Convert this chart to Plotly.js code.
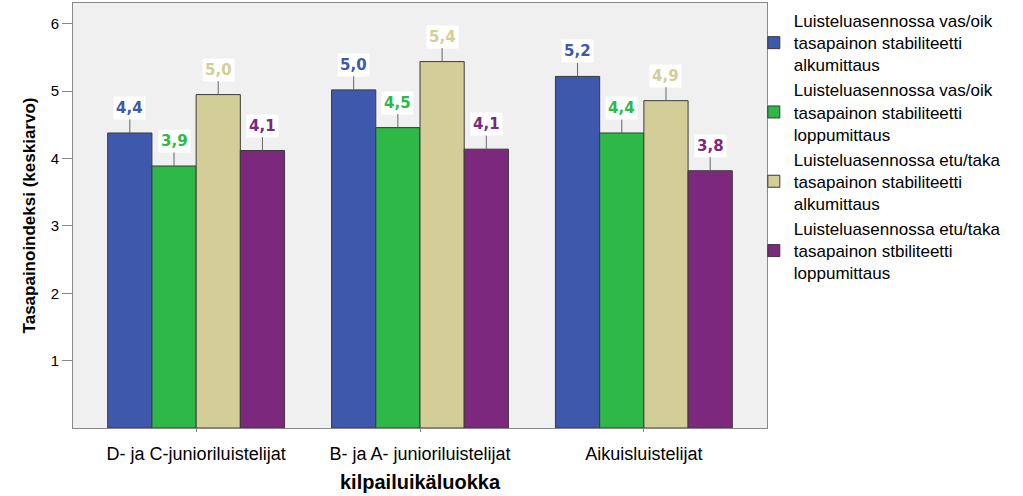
<!DOCTYPE html>
<html>
<head>
<meta charset="utf-8">
<script src="https://cdn.plot.ly/plotly-3.0.1.min.js"></script>
<style>html,body{margin:0;padding:0;background:#fff;}#chart{width:1023px;height:496px;}</style>
</head>
<body>
<div id="chart"></div>
<script>
const categories = ["D- ja C-junioriluistelijat", "B- ja A- junioriluistelijat", "Aikuisluistelijat"];
const seriesNames = [
  "Luisteluasennossa vas/oik<br>tasapainon stabiliteetti<br>alkumittaus",
  "Luisteluasennossa vas/oik<br>tasapainon stabiliteetti<br>loppumittaus",
  "Luisteluasennossa etu/taka<br>tasapainon stabiliteetti<br>alkumittaus",
  "Luisteluasennossa etu/taka<br>tasapainon stbiliteetti<br>loppumittaus"
];
const vasOikAlku  = [4.38, 5.02, 5.22];
const vasOikLoppu = [3.89, 4.46, 4.38];
const etuTakaAlku = [4.95, 5.44, 4.86];
const etuTakaLoppu = [4.12, 4.14, 3.82];
const seriesValues = [vasOikAlku, vasOikLoppu, etuTakaAlku, etuTakaLoppu];
const colors = ["#3E58AC", "#2EB848", "#D3CE97", "#7B287D"];
const yTicks = [1, 2, 3, 4, 5, 6];

const bargap = 0.21;
const nS = seriesValues.length;
const bw = (1 - bargap) / nS;
const xs = categories.map((c, i) => i);

const traces = seriesValues.map((vals, s) => ({
  type: "bar",
  x: xs,
  y: vals,
  name: seriesNames[s],
  marker: {color: colors[s], line: {color: "#3a3a3a", width: 1}},
  hoverinfo: "y"
}));

const annotations = [];
seriesValues.forEach((vals, s) => {
  vals.forEach((v, g) => {
    annotations.push({
      x: g + (s - (nS - 1) / 2) * bw,
      y: v,
      xref: "x", yref: "y",
      text: v.toFixed(1).replace(".", ","),
      showarrow: true, arrowhead: 0, arrowwidth: 1, arrowcolor: "#666",
      ax: 0, ay: -25, standoff: 0,
      bgcolor: "#ffffff", borderpad: 2,
      font: {family: "DejaVu Sans", size: 15, color: colors[s], weight: "bold"}
    });
  });
});

annotations.push({
  xref: "paper", yref: "paper", x: 0.5, y: 0, yshift: -54, yanchor: "middle",
  showarrow: false, text: "<b>kilpailuikäluokka</b>",
  font: {family: "Liberation Sans", size: 20, color: "#000"}
});

const layout = {
  width: 1023, height: 496,
  margin: {l: 73, r: 256, t: 3, b: 68},
  paper_bgcolor: "#ffffff",
  plot_bgcolor: "#F0F0F0",
  barmode: "group",
  bargap: bargap,
  bargroupgap: 0,
  showlegend: true,
  font: {family: "Liberation Sans", color: "#000"},
  xaxis: {
    range: [-0.55, 2.55],
    tickvals: xs,
    ticktext: categories,
    tickfont: {family: "Liberation Sans", size: 18, color: "#000"},
    ticks: "outside", ticklen: 3, tickcolor: "#888",
    ticklabelstandoff: 6,
    showline: true, linecolor: "#888", linewidth: 1, mirror: true,
    showgrid: false, zeroline: false
  },
  yaxis: {
    range: [0, 6.31],
    tickvals: yTicks,
    ticktext: yTicks.map(String),
    tickfont: {family: "Liberation Sans", size: 15, color: "#000"},
    ticks: "outside", ticklen: 10, tickcolor: "#888",
    showline: true, linecolor: "#888", linewidth: 1, mirror: true,
    showgrid: false, zeroline: false,
    title: {text: "<b>Tasapainoindeksi (keskiarvo)</b>", standoff: 10,
            font: {family: "Liberation Sans", size: 17, color: "#000"}}
  },
  legend: {
    x: 0.981, xanchor: "left", y: 1, yanchor: "top",
    font: {family: "Liberation Sans", size: 17, color: "#000"},
    tracegroupgap: 0, itemwidth: 30,
    bgcolor: "rgba(0,0,0,0)"
  },
  annotations: annotations
};

Plotly.newPlot("chart", traces, layout, {displayModeBar: false, staticPlot: true});
</script>
</body>
</html>
